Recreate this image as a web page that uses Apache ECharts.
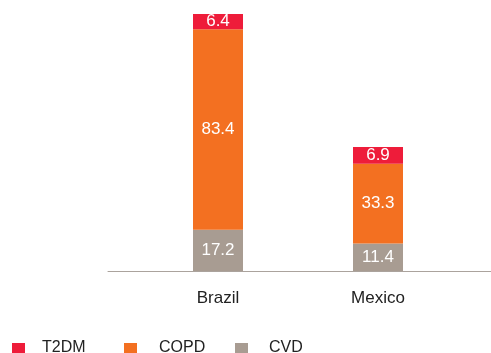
<!DOCTYPE html>
<html>
<head>
<meta charset="utf-8">
<script src="https://cdn.jsdelivr.net/npm/echarts@6/dist/echarts.min.js"></script>
<style>
  html, body { margin: 0; padding: 0; background: #fff; }
  #chart { width: 491px; height: 353px; }
</style>
</head>
<body>
<div id="chart"></div>
<script>
// Countries on the category axis
const countries = ['Brazil', 'Mexico'];

// Stacked values per condition
const cvd  = [17.2, 11.4];
const copd = [83.4, 33.3];
const t2dm = [6.4, 6.9];

const seriesNames = ['T2DM', 'COPD', 'CVD'];
const colors = { T2DM: '#EE1C3A', COPD: '#F37021', CVD: '#A89C92' };
const legendLeft = [12, 124, 235];
const legendTextGap = [12, 17, 16];

const font = 'Liberation Sans, Arial, Helvetica, sans-serif';

function barSeries(name, values) {
  return {
    name: name,
    type: 'bar',
    stack: 'total',
    xAxisIndex: 0,
    yAxisIndex: 0,
    barWidth: 50,
    data: values,
    itemStyle: { color: colors[name] },
    label: {
      show: true,
      position: 'inside',
      color: '#fff',
      fontFamily: font,
      fontSize: 17,
      formatter: p => p.value.toFixed(1)
    }
  };
}

// One legend block per condition, laid out in fixed columns
const legends = seriesNames.map((name, i) => ({
  data: [name],
  left: legendLeft[i],
  top: 340,
  padding: 0,
  orient: 'horizontal',
  itemWidth: 13,
  itemHeight: 10,
  icon: 'rect',
  selectedMode: false,
  formatter: n => '{t|' + n + '}',
  textStyle: {
    rich: {
      t: {
        fontFamily: font,
        fontSize: 16,
        color: '#222',
        padding: [0, 0, 0, legendTextGap[i]]
      }
    }
  }
}));

const chart = echarts.init(document.getElementById('chart'), null, { renderer: 'canvas' });

chart.setOption({
  animation: false,
  textStyle: { fontFamily: font },
  legend: legends,
  grid: [
    { left: 138, width: 320, top: 14, bottom: 82 },
    { left: 108, right: 0, top: 14, bottom: 82 }
  ],
  xAxis: [
    {
      type: 'category',
      gridIndex: 0,
      data: countries,
      axisLine: { show: false },
      axisTick: { show: false },
      axisLabel: {
        color: '#222',
        fontFamily: font,
        fontSize: 17,
        margin: 19
      }
    },
    {
      type: 'value',
      gridIndex: 1,
      min: 0,
      max: 1,
      axisLine: { show: true, onZero: false, lineStyle: { color: '#ABA39D', width: 1 } },
      axisTick: { show: false },
      axisLabel: { show: false },
      splitLine: { show: false }
    }
  ],
  yAxis: [
    {
      type: 'value',
      gridIndex: 0,
      min: 0,
      max: 107,
      show: false
    },
    {
      type: 'value',
      gridIndex: 1,
      min: 0,
      max: 1,
      show: false
    }
  ],
  series: [
    barSeries('CVD', cvd),
    barSeries('COPD', copd),
    barSeries('T2DM', t2dm)
  ]
});
</script>
</body>
</html>
